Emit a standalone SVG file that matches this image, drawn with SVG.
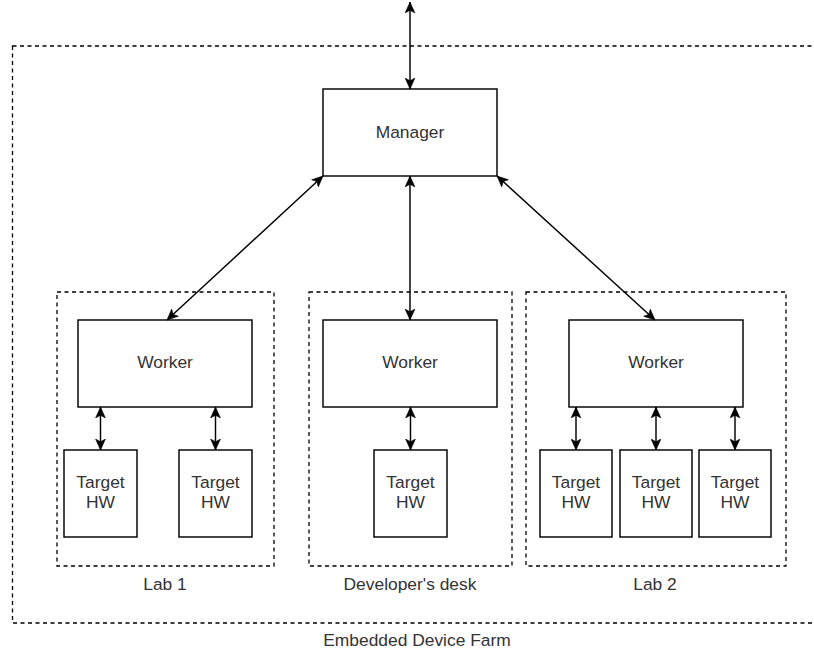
<svg xmlns="http://www.w3.org/2000/svg" width="814" height="651" viewBox="0 0 814 651">
  <style>
    .box { fill: #ffffff; stroke: #000000; stroke-width: 1.45; }
    .group { fill: none; stroke: #000000; stroke-width: 1.3; stroke-dasharray: 4 3.5; }
    .lbl { font-family: "Liberation Sans", Arial, sans-serif; font-size: 17.4px; fill: #333333; text-anchor: middle; dominant-baseline: central; }
    .base { font-family: "Liberation Sans", Arial, sans-serif; font-size: 17.4px; fill: #333333; text-anchor: middle; }
    .link { fill: none; stroke: #000000; stroke-width: 1.45; marker-start: url(#head); marker-end: url(#head); }
  </style>
  <defs>
    <marker id="head" viewBox="0 0 10 10" refX="10" refY="5" markerWidth="11" markerHeight="11" markerUnits="userSpaceOnUse" orient="auto-start-reverse">
      <path d="M0,0.5 L10,5 L0,9.5 L2.5,5 Z" fill="#000000" stroke="#000000" stroke-width="0.5"/>
    </marker>
  </defs>
  <rect width="814" height="651" fill="#ffffff"/>

  <!-- Outer farm boundary -->
  <g id="farm">
    <rect class="group" x="12.5" y="46" width="820" height="577"/>
    <text class="base" x="417" y="645.5">Embedded Device Farm</text>
  </g>

  <!-- Lab 1 -->
  <g id="lab1">
    <rect class="group" x="57" y="292" width="217" height="274"/>
    <text class="lbl" x="165" y="584">Lab 1</text>
  </g>
  <!-- Developer's desk -->
  <g id="devdesk">
    <rect class="group" x="309" y="292" width="203" height="274"/>
    <text class="lbl" x="410" y="584">Developer's desk</text>
  </g>
  <!-- Lab 2 -->
  <g id="lab2">
    <rect class="group" x="526" y="292" width="260" height="274"/>
    <text class="lbl" x="655" y="584">Lab 2</text>
  </g>

  <g id="manager">
    <rect class="box" x="323" y="89" width="174" height="87"/>
    <text class="lbl" x="410" y="131.5">Manager</text>
  </g>

  <g id="worker1">
    <rect class="box" x="78" y="320" width="174" height="87"/>
    <text class="lbl" x="165" y="362">Worker</text>
  </g>
  <g id="worker2">
    <rect class="box" x="323" y="320" width="174" height="87"/>
    <text class="lbl" x="410" y="362">Worker</text>
  </g>
  <g id="worker3">
    <rect class="box" x="569" y="320" width="174" height="87"/>
    <text class="lbl" x="656" y="362">Worker</text>
  </g>

  <g id="hw1a">
    <rect class="box" x="64" y="450" width="73" height="87"/>
    <text class="lbl" x="100.5"><tspan x="100.5" y="482">Target</tspan><tspan x="100.5" y="502">HW</tspan></text>
  </g>
  <g id="hw1b">
    <rect class="box" x="179" y="450" width="73" height="87"/>
    <text class="lbl" x="215.5"><tspan x="215.5" y="482">Target</tspan><tspan x="215.5" y="502">HW</tspan></text>
  </g>
  <g id="hw2">
    <rect class="box" x="374" y="450" width="73" height="87"/>
    <text class="lbl" x="410.5"><tspan x="410.5" y="482">Target</tspan><tspan x="410.5" y="502">HW</tspan></text>
  </g>
  <g id="hw3a">
    <rect class="box" x="540" y="450" width="72" height="87"/>
    <text class="lbl" x="576"><tspan x="576" y="482">Target</tspan><tspan x="576" y="502">HW</tspan></text>
  </g>
  <g id="hw3b">
    <rect class="box" x="620" y="450" width="72" height="87"/>
    <text class="lbl" x="656"><tspan x="656" y="482">Target</tspan><tspan x="656" y="502">HW</tspan></text>
  </g>
  <g id="hw3c">
    <rect class="box" x="699" y="450" width="72" height="87"/>
    <text class="lbl" x="735"><tspan x="735" y="482">Target</tspan><tspan x="735" y="502">HW</tspan></text>
  </g>

  <!-- Connectors -->
  <g id="connectors">
    <line class="link" x1="410" y1="2" x2="410" y2="89"/>
    <line class="link" x1="323" y1="176" x2="167" y2="320"/>
    <line class="link" x1="410" y1="176" x2="410" y2="320"/>
    <line class="link" x1="497" y1="176" x2="655" y2="320"/>
    <line class="link" x1="100.5" y1="407" x2="100.5" y2="450"/>
    <line class="link" x1="215.5" y1="407" x2="215.5" y2="450"/>
    <line class="link" x1="410.5" y1="407" x2="410.5" y2="450"/>
    <line class="link" x1="576" y1="407" x2="576" y2="450"/>
    <line class="link" x1="656" y1="407" x2="656" y2="450"/>
    <line class="link" x1="735" y1="407" x2="735" y2="450"/>
  </g>
</svg>
